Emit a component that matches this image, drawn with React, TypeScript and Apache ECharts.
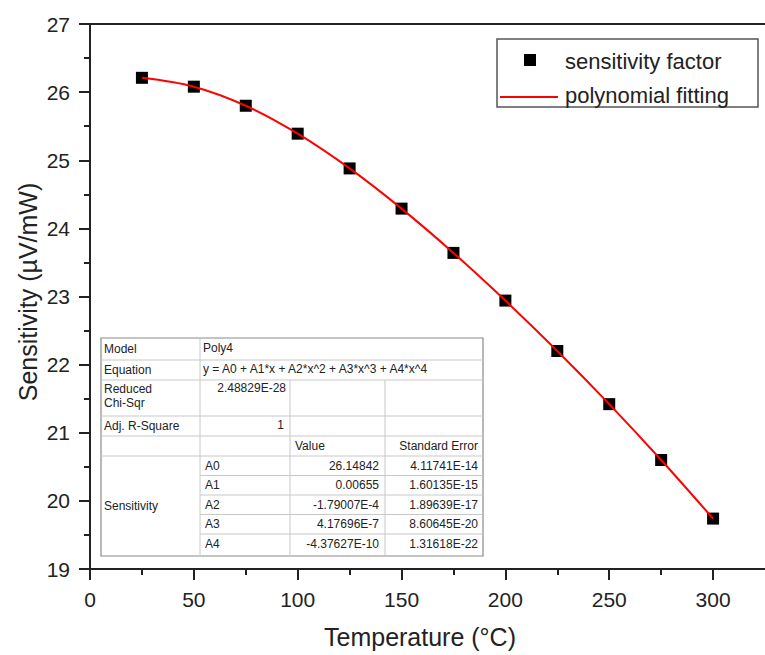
import React, { useEffect, useRef } from "react";
import * as echarts from "echarts";

const temperature = [25, 50, 75, 100, 125, 150, 175, 200, 225, 250, 275, 300];
const sensitivity = [26.21, 26.08, 25.8, 25.39, 24.88, 24.29, 23.64, 22.94, 22.2, 21.42, 20.6, 19.74];

const xMajorTicks = [0, 50, 100, 150, 200, 250, 300];
const xMinorTicks = [25, 75, 125, 175, 225, 275];

const xTitle = "Temperature (°C)";
const yTitle = "Sensitivity (µV/mW)";
const legendNames = ["sensitivity factor", "polynomial fitting"];

const tableInfo = [
  ["Model", "Poly4"],
  ["Equation", "y = A0 + A1*x + A2*x^2 + A3*x^3 + A4*x^4"],
  ["Reduced|Chi-Sqr", "2.48829E-28"],
  ["Adj. R-Square", "1"],
];
const tableHeader = ["Value", "Standard Error"];
const paramGroup = "Sensitivity";
const paramNames = ["A0", "A1", "A2", "A3", "A4"];
const paramValues = ["26.14842", "0.00655", "-1.79007E-4", "4.17696E-7", "-4.37627E-10"];
const paramErrors = ["4.11741E-14", "1.60135E-15", "1.89639E-17", "8.60645E-20", "1.31618E-22"];

const FONT = "'Liberation Sans', Arial, sans-serif";
const AX = "#222";

function txt(text: string, x: number, y: number, size: number, align = "left", extra: any = {}) {
  return {
    type: "text",
    x,
    y,
    ...extra,
    style: {
      text,
      font: `${size}px ${FONT}`,
      fill: "#222",
      align,
      verticalAlign: "middle",
      textAlign: align,
      textVerticalAlign: "middle",
    },
  };
}

function ln(x1: number, y1: number, x2: number, y2: number, color: string, w = 1) {
  return { type: "line", shape: { x1, y1, x2, y2 }, style: { stroke: color, lineWidth: w } };
}

function buildTable() {
  const cx = [101, 200, 290, 385, 483];
  const ry = [338, 360, 380, 416, 436, 456];
  const aH = 19.5;
  const bottom = 556;
  const inner = "#c8c8c8";
  const els: any[] = [];
  els.push({
    type: "rect",
    shape: { x: cx[0], y: ry[0], width: cx[4] - cx[0], height: bottom - ry[0] },
    style: { fill: "#fff", stroke: "#8a8a8a", lineWidth: 1.2 },
  });
  for (let i = 1; i < ry.length; i++) els.push(ln(cx[0], ry[i], cx[4], ry[i], inner));
  for (let i = 1; i < paramNames.length; i++) {
    const y = ry[5] + aH * i;
    els.push(ln(cx[1], y, cx[4], y, inner));
  }
  els.push(ln(cx[1], ry[0], cx[1], bottom, inner));
  els.push(ln(cx[2], ry[2], cx[2], bottom, inner));
  els.push(ln(cx[3], ry[2], cx[3], bottom, inner));
  const fs = 12;
  els.push(txt(tableInfo[0][0], 104, 349, fs));
  els.push(txt(tableInfo[0][1], 203, 348, fs));
  els.push(txt(tableInfo[1][0], 104, 370, fs));
  els.push(txt(tableInfo[1][1], 203, 369, fs));
  const rc = tableInfo[2][0].split("|");
  els.push(txt(rc[0], 104, 389, fs));
  els.push(txt(rc[1], 104, 403, fs));
  els.push(txt(tableInfo[2][1], 286, 388, fs, "right"));
  els.push(txt(tableInfo[3][0], 104, 426, fs));
  els.push(txt(tableInfo[3][1], 284, 425, fs, "right"));
  els.push(txt(tableHeader[0], 295, 446, fs));
  els.push(txt(tableHeader[1], 478, 446, fs, "right"));
  els.push(txt(paramGroup, 104, 506, fs));
  paramNames.forEach((n, i) => {
    const y = ry[5] + aH * i + aH / 2;
    els.push(txt(n, 205, y, fs));
    els.push(txt(paramValues[i], 379, y, fs, "right"));
    els.push(txt(paramErrors[i], 478, y, fs, "right"));
  });
  return els;
}

function buildLegend() {
  return [
    {
      type: "rect",
      shape: { x: 497, y: 39, width: 261, height: 68 },
      style: { fill: "#fff", stroke: "#555", lineWidth: 1.5 },
    },
    { type: "rect", shape: { x: 524, y: 54, width: 12, height: 12 }, style: { fill: "#000" } },
    ln(500, 97, 558, 97, "#ff0000", 2),
    txt(legendNames[0], 565, 61, 22),
    txt(legendNames[1], 565, 95, 22),
  ];
}

export default function App() {
  const ref = useRef<HTMLDivElement>(null);
  useEffect(() => {
    if (!ref.current) return;
    const chart = echarts.init(ref.current, null, { renderer: "svg" });
    const pairs = temperature.map((t, i) => [t, sensitivity[i]]);
    chart.setOption({
      animation: false,
      backgroundColor: "#fff",
      grid: { left: 90, top: 24, right: 0, height: 545, containLabel: false },
      xAxis: [
        {
          type: "value",
          min: 0,
          max: 325,
          position: "bottom",
          axisLine: { show: true, lineStyle: { color: AX, width: 2 } },
          axisTick: {
            show: true,
            length: 11,
            customValues: xMajorTicks,
            lineStyle: { color: AX, width: 2 },
          },
          minorTick: { show: false },
          splitLine: { show: false },
          axisLabel: {
            fontSize: 21,
            color: AX,
            margin: 20,
            fontFamily: FONT,
            customValues: xMajorTicks,
          },
        },
        {
          type: "value",
          min: 0,
          max: 325,
          position: "top",
          axisLine: { show: true, lineStyle: { color: AX, width: 2 } },
          axisTick: { show: false },
          axisLabel: { show: false },
          splitLine: { show: false },
        },
        {
          type: "value",
          min: 0,
          max: 325,
          position: "bottom",
          axisLine: { show: false },
          axisTick: {
            show: true,
            length: 6,
            customValues: xMinorTicks,
            lineStyle: { color: AX, width: 2 },
          },
          axisLabel: { show: false },
          splitLine: { show: false },
        },
      ],
      yAxis: [
        {
          type: "value",
          min: 19,
          max: 27,
          interval: 1,
          axisLine: { show: true, lineStyle: { color: AX, width: 2 } },
          axisTick: { show: true, length: 11, lineStyle: { color: AX, width: 2 } },
          minorTick: { show: true, splitNumber: 2, length: 6, lineStyle: { color: AX, width: 2 } },
          splitLine: { show: false },
          axisLabel: { fontSize: 21, color: AX, margin: 20, fontFamily: FONT },
        },
      ],
      series: [
        {
          name: legendNames[0],
          type: "scatter",
          data: pairs,
          symbol: "rect",
          symbolSize: 12,
          itemStyle: { color: "#000", opacity: 1 },
          z: 2,
        },
        {
          name: legendNames[1],
          type: "line",
          data: pairs,
          smooth: 0.35,
          showSymbol: false,
          symbol: "none",
          lineStyle: { color: "#ff0000", width: 2 },
          z: 3,
        },
      ],
      graphic: [
        txt(xTitle, 420, 637, 25, "center"),
        txt(yTitle, 28, 292, 25, "center", { rotation: Math.PI / 2 }),
        ...buildLegend(),
        ...buildTable(),
      ],
    });
    return () => chart.dispose();
  }, []);
  return (
    <div
      ref={ref}
      style={{ position: "fixed", left: 0, top: 0, width: 765, height: 655, background: "#fff" }}
    />
  );
}
